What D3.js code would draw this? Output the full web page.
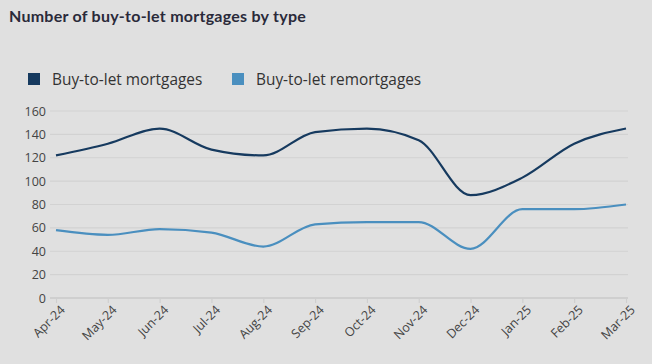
<!DOCTYPE html>
<html>
<head>
<meta charset="utf-8">
<script src="https://cdn.jsdelivr.net/npm/d3@7"></script>
<style>
  html, body { margin: 0; padding: 0; background: #e0e0e0; }
  svg { display: block; }
</style>
</head>
<body>
<div id="chart"></div>
<script>
// data
const months = ["Apr-24","May-24","Jun-24","Jul-24","Aug-24","Sep-24","Oct-24","Nov-24","Dec-24","Jan-25","Feb-25","Mar-25"];
const mortgages = [122, 132, 145, 127, 122, 142, 145, 135, 88, 103, 132, 145];
const remortgages = [58, 54, 59, 56, 44, 63, 65, 65, 42, 76, 76, 80];
const yTicks = [0, 20, 40, 60, 80, 100, 120, 140, 160];

const seriesNames = ["Buy-to-let mortgages", "Buy-to-let remortgages"];
const seriesColors = ["#163a5f", "#4a8fbf"];

const width = 652, height = 364;
const margin = {top: 111, right: 26, bottom: 66, left: 56};
const innerW = width - margin.left - margin.right;
const innerH = height - margin.top - margin.bottom;

const svg = d3.select("#chart").append("svg")
  .attr("width", width)
  .attr("height", height);

svg.append("rect")
  .attr("width", width).attr("height", height)
  .attr("fill", "#e0e0e0");

// title
svg.append("text")
  .attr("x", 9)
  .attr("y", 22)
  .style("font-family", "Lato, 'Open Sans', sans-serif")
  .style("font-size", "16px")
  .style("font-weight", "bold")
  .style("letter-spacing", "0.25px")
  .style("fill", "#2a2a3a")
  .text("Number of buy-to-let mortgages by type");

// legend
const legendX = [28, 232];
seriesNames.forEach((name, i) => {
  svg.append("rect")
    .attr("x", legendX[i]).attr("y", 73)
    .attr("width", 12).attr("height", 12)
    .attr("fill", seriesColors[i]);
  svg.append("text")
    .attr("x", legendX[i] + 24)
    .attr("y", 85)
    .style("font-family", "'Open Sans', sans-serif")
    .style("font-size", "15.4px")
    .style("fill", "#333")
    .text(name);
});

const g = svg.append("g")
  .attr("transform", "translate(" + margin.left + "," + margin.top + ")");

const xScale = d3.scalePoint().domain(months).range([0, innerW]);
const yScale = d3.scaleLinear().domain([0, 160]).range([innerH, 0]);

// gridlines
g.append("g")
  .selectAll("line")
  .data(yTicks)
  .join("line")
  .attr("x1", -6).attr("x2", innerW + 2)
  .attr("y1", d => yScale(d)).attr("y2", d => yScale(d))
  .attr("stroke", d => d === 0 ? "#cfcfcf" : "#d2d2d2")
  .attr("stroke-width", d => d === 0 ? 2 : 1.2);

// y axis
const yAxisG = g.append("g")
  .call(d3.axisLeft(yScale).tickValues(yTicks).tickSize(0).tickPadding(10));
yAxisG.select(".domain").remove();
yAxisG.selectAll("text")
  .style("font-family", "'Open Sans', sans-serif")
  .style("font-size", "12.5px")
  .style("fill", "#444");

// x axis
const xAxisG = g.append("g")
  .attr("transform", "translate(0," + innerH + ")")
  .call(d3.axisBottom(xScale).tickSize(5).tickPadding(3));
xAxisG.select(".domain").remove();
xAxisG.selectAll(".tick line").attr("stroke", "#cfcfcf").attr("stroke-width", 1.2);
xAxisG.selectAll("text")
  .style("font-family", "'Open Sans', sans-serif")
  .style("font-size", "12.5px")
  .style("fill", "#444")
  .attr("text-anchor", "end")
  .attr("dx", "-0.2em")
  .attr("dy", "0.6em")
  .attr("transform", "rotate(-45)");

// lines
const line = d3.line()
  .x((d, i) => xScale(months[i]))
  .y(d => yScale(d))
  .curve(d3.curveMonotoneX);

[mortgages, remortgages].forEach((values, i) => {
  g.append("path")
    .datum(values)
    .attr("fill", "none")
    .attr("stroke", seriesColors[i])
    .attr("stroke-width", 2.2)
    .attr("d", line);
});
</script>
</body>
</html>
